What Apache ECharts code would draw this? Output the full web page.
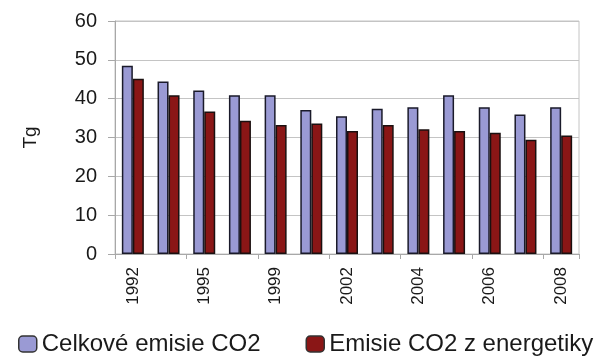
<!DOCTYPE html>
<html>
<head>
<meta charset="utf-8">
<script src="https://cdn.jsdelivr.net/npm/echarts@6/dist/echarts.min.js"></script>
<style>
  html, body { margin: 0; padding: 0; background: #fff; }
  #chart { width: 612px; height: 356px; }
</style>
</head>
<body>
<div id="chart"></div>
<script>
const years = ['1992', '1994', '1995', '1997', '1999', '2000', '2002', '2003', '2004', '2005', '2006', '2007', '2008']
const celkove = [48.5, 44.4, 42.1, 40.9, 40.9, 37.1, 35.5, 37.4, 37.8, 40.9, 37.8, 35.9, 37.8]
const energetika = [45.1, 40.9, 36.7, 34.3, 33.2, 33.6, 31.7, 33.2, 32.1, 31.7, 31.2, 29.4, 30.5]

const font = 'Liberation Sans, Arial, sans-serif'

const chart = echarts.init(document.getElementById('chart'))
chart.setOption({
  animation: false,
  textStyle: { fontFamily: font },
  grid: {
    left: 115, right: 33, top: 21, bottom: 102,
    show: true, borderColor: '#c4c4c4', borderWidth: 1
  },
  legend: {
    top: 332, left: 18, padding: 0,
    itemWidth: 18, itemHeight: 16, itemGap: 45,
    textStyle: { fontSize: 24, color: '#1a1a1a', fontFamily: font },
    data: [
      { name: 'Celkové emisie CO2', itemStyle: { borderColor: '#333', borderWidth: 1.5 } },
      { name: 'Emisie CO2 z energetiky', itemStyle: { borderColor: '#333', borderWidth: 1.5 } }
    ]
  },
  xAxis: {
    type: 'category',
    data: years,
    axisLine: { lineStyle: { color: '#a8a8a8' } },
    axisTick: { show: true, length: 5, lineStyle: { color: '#a8a8a8' } },
    axisLabel: { rotate: 90, interval: 1, fontSize: 17, color: '#1a1a1a', margin: 13 }
  },
  yAxis: {
    type: 'value',
    min: 0, max: 60, interval: 10,
    name: 'Tg',
    nameLocation: 'middle',
    nameGap: 75,
    nameRotate: 90,
    nameTextStyle: { fontSize: 19, color: '#1a1a1a' },
    axisLine: { show: true, lineStyle: { color: '#a8a8a8' } },
    axisTick: { show: true, length: 7, lineStyle: { color: '#a8a8a8' } },
    axisLabel: { fontSize: 20, color: '#1a1a1a', margin: 18 },
    splitLine: { lineStyle: { color: '#c4c4c4' } }
  },
  series: [
    {
      name: 'Celkové emisie CO2',
      type: 'bar',
      data: celkove,
      barWidth: 11,
      barGap: '0%',
      itemStyle: { color: '#9a9ad4', borderColor: '#1a1a2a', borderWidth: 1.5 }
    },
    {
      name: 'Emisie CO2 z energetiky',
      type: 'bar',
      data: energetika,
      barWidth: 11,
      itemStyle: { color: '#8a1616', borderColor: '#1a1010', borderWidth: 1.5 }
    }
  ]
})
</script>
</body>
</html>
